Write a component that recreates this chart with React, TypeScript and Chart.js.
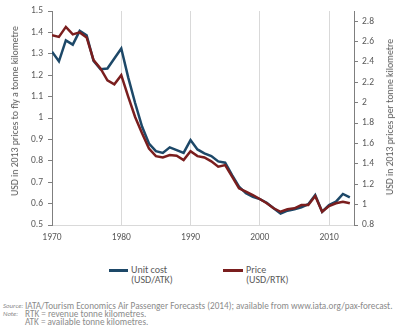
import React, { useEffect, useRef } from "react";
import Chart from "chart.js/auto";

const years = [
  1970, 1971, 1972, 1973, 1974, 1975, 1976, 1977, 1978, 1979,
  1980, 1981, 1982, 1983, 1984, 1985, 1986, 1987, 1988, 1989,
  1990, 1991, 1992, 1993, 1994, 1995, 1996, 1997, 1998, 1999,
  2000, 2001, 2002, 2003, 2004, 2005, 2006, 2007, 2008, 2009,
  2010, 2011, 2012, 2013,
];

const unitCost = [
  1.31, 1.265, 1.363, 1.343, 1.407, 1.387, 1.267, 1.228, 1.231, 1.278,
  1.325, 1.19, 1.07, 0.96, 0.881, 0.845, 0.837, 0.863, 0.85, 0.837,
  0.897, 0.853, 0.835, 0.822, 0.797, 0.791, 0.733, 0.679, 0.648, 0.632,
  0.621, 0.604, 0.578, 0.553, 0.567, 0.573, 0.583, 0.597, 0.64, 0.562,
  0.593, 0.609, 0.645, 0.629,
];

const price = [
  2.663, 2.646, 2.744, 2.67, 2.69, 2.64, 2.418, 2.336, 2.22, 2.18,
  2.27, 2.06, 1.86, 1.7, 1.55, 1.476, 1.463, 1.486, 1.48, 1.437,
  1.525, 1.476, 1.463, 1.425, 1.372, 1.388, 1.274, 1.16, 1.127, 1.094,
  1.055, 1.013, 0.964, 0.93, 0.954, 0.964, 0.996, 0.996, 1.084, 0.93,
  0.986, 1.013, 1.029, 1.013,
];

const xTicks = [1970, 1980, 1990, 2000, 2010];
const leftTicks = [0.5, 0.6, 0.7, 0.8, 0.9, 1, 1.1, 1.2, 1.3, 1.4, 1.5];
const rightTicks = [0.8, 1, 1.2, 1.4, 1.6, 1.8, 2, 2.2, 2.4, 2.6, 2.8];

const FONT = "Carlito, Lato, 'Open Sans', sans-serif";
const BLUE = "#1d4868";
const RED = "#7a1e1e";
const TXT = "#595959";

export default function App() {
  const ref = useRef<HTMLCanvasElement | null>(null);

  useEffect(() => {
    if (!ref.current) return;
    const chart = new Chart(ref.current, {
      type: "line",
      data: {
        datasets: [
          {
            label: "Unit cost (USD/ATK)",
            data: years.map((y, i) => ({ x: y, y: unitCost[i] })),
            borderColor: BLUE,
            borderWidth: 2.5,
            pointRadius: 0,
            tension: 0,
            yAxisID: "y",
            order: 1,
          },
          {
            label: "Price (USD/RTK)",
            data: years.map((y, i) => ({ x: y, y: price[i] })),
            borderColor: RED,
            borderWidth: 2.5,
            pointRadius: 0,
            tension: 0,
            yAxisID: "y2",
            order: 0,
          },
        ],
      },
      options: {
        responsive: false,
        animation: false,
        devicePixelRatio: 1,
        layout: { autoPadding: false, padding: { top: 11, left: 0, right: 0, bottom: 0 } },
        plugins: { legend: { display: false }, tooltip: { enabled: false } },
        scales: {
          x: {
            type: "linear",
            min: 1970,
            max: 2013.6,
            afterBuildTicks: (s: any) => {
              s.ticks = xTicks.map((v) => ({ value: v }));
            },
            afterFit: (s: any) => {
              s.height = 35;
            },
            grid: { color: "#d9d9d9", drawTicks: false, lineWidth: 1 },
            border: { color: "#d9d9d9" },
            ticks: {
              padding: 7,
              color: TXT,
              font: { family: FONT, size: 9.5 },
              maxRotation: 0,
              callback: (v: any) => String(v),
            },
          },
          y: {
            position: "left",
            min: 0.5,
            max: 1.5,
            afterBuildTicks: (s: any) => {
              s.ticks = leftTicks.map((v) => ({ value: v }));
            },
            afterFit: (s: any) => {
              s.width = 52;
            },
            grid: { drawOnChartArea: false, drawTicks: true, tickLength: 4, color: "#7f7f7f" },
            border: { color: "#7f7f7f" },
            ticks: {
              padding: 5,
              color: TXT,
              font: { family: FONT, size: 9.5 },
              callback: (v: any) => String(Math.round(Number(v) * 10) / 10),
            },
          },
          y2: {
            position: "right",
            min: 0.8,
            max: 2.9,
            afterBuildTicks: (s: any) => {
              s.ticks = rightTicks.map((v) => ({ value: v }));
            },
            afterFit: (s: any) => {
              s.width = 46;
            },
            grid: { drawOnChartArea: false, drawTicks: true, tickLength: 4, color: "#7f7f7f" },
            border: { color: "#7f7f7f" },
            ticks: {
              padding: 4,
              color: TXT,
              font: { family: FONT, size: 9.5 },
              callback: (v: any) => String(Math.round(Number(v) * 10) / 10),
            },
          },
        },
      },
    });
    return () => chart.destroy();
  }, []);

  const abs = (s: React.CSSProperties): React.CSSProperties => ({ position: "absolute", ...s });
  const legendText: React.CSSProperties = { fontSize: 10, color: TXT, lineHeight: "10px", whiteSpace: "nowrap" };
  const noteText: React.CSSProperties = { fontSize: 9.2, color: "#8a8a8a", lineHeight: "8px", whiteSpace: "nowrap" };
  const noteLabel: React.CSSProperties = { fontSize: 6.8, color: "#8a8a8a", lineHeight: "8px", whiteSpace: "nowrap", fontStyle: "italic" };

  return (
    <div style={{ position: "fixed", left: 0, top: 0, width: 400, height: 331, background: "#fff", fontFamily: FONT, overflow: "hidden" }}>
      <canvas ref={ref} width={400} height={260} style={{ position: "absolute", left: 0, top: 0, width: 400, height: 260 }} />
      <div style={abs({ left: 15, top: 111, width: 0, height: 0 })}>
        <div style={{ position: "absolute", left: 0, top: 0, transform: "translate(-50%, -50%) rotate(-90deg)", whiteSpace: "nowrap", fontSize: 9.8, color: TXT }}>
          USD in 2013 prices to fly a tonne kilometre
        </div>
      </div>
      <div style={abs({ left: 390, top: 117, width: 0, height: 0 })}>
        <div style={{ position: "absolute", left: 0, top: 0, transform: "translate(-50%, -50%) rotate(-90deg)", whiteSpace: "nowrap", fontSize: 9.8, color: TXT }}>
          USD in 2013 prices per tonne kilometre
        </div>
      </div>
      <div style={abs({ left: 109, top: 269, width: 19, height: 3, background: BLUE })} />
      <div style={abs({ left: 131, top: 265, ...legendText })}>
        Unit cost
        <br />
        (USD/ATK)
      </div>
      <div style={abs({ left: 223, top: 269, width: 20, height: 3, background: RED })} />
      <div style={abs({ left: 246, top: 265, ...legendText })}>
        Price
        <br />
        (USD/RTK)
      </div>
      <div style={abs({ left: 3, top: 302, ...noteLabel })}>Source:</div>
      <div style={abs({ left: 25, top: 302, ...noteText })}>
        IATA/Tourism Economics Air Passenger Forecasts (2014); available from www.iata.org/pax-forecast.
      </div>
      <div style={abs({ left: 3, top: 310, ...noteLabel })}>Note:</div>
      <div style={abs({ left: 25, top: 310, ...noteText })}>RTK = revenue tonne kilometres.</div>
      <div style={abs({ left: 25, top: 318, ...noteText })}>ATK = available tonne kilometres.</div>
    </div>
  );
}
